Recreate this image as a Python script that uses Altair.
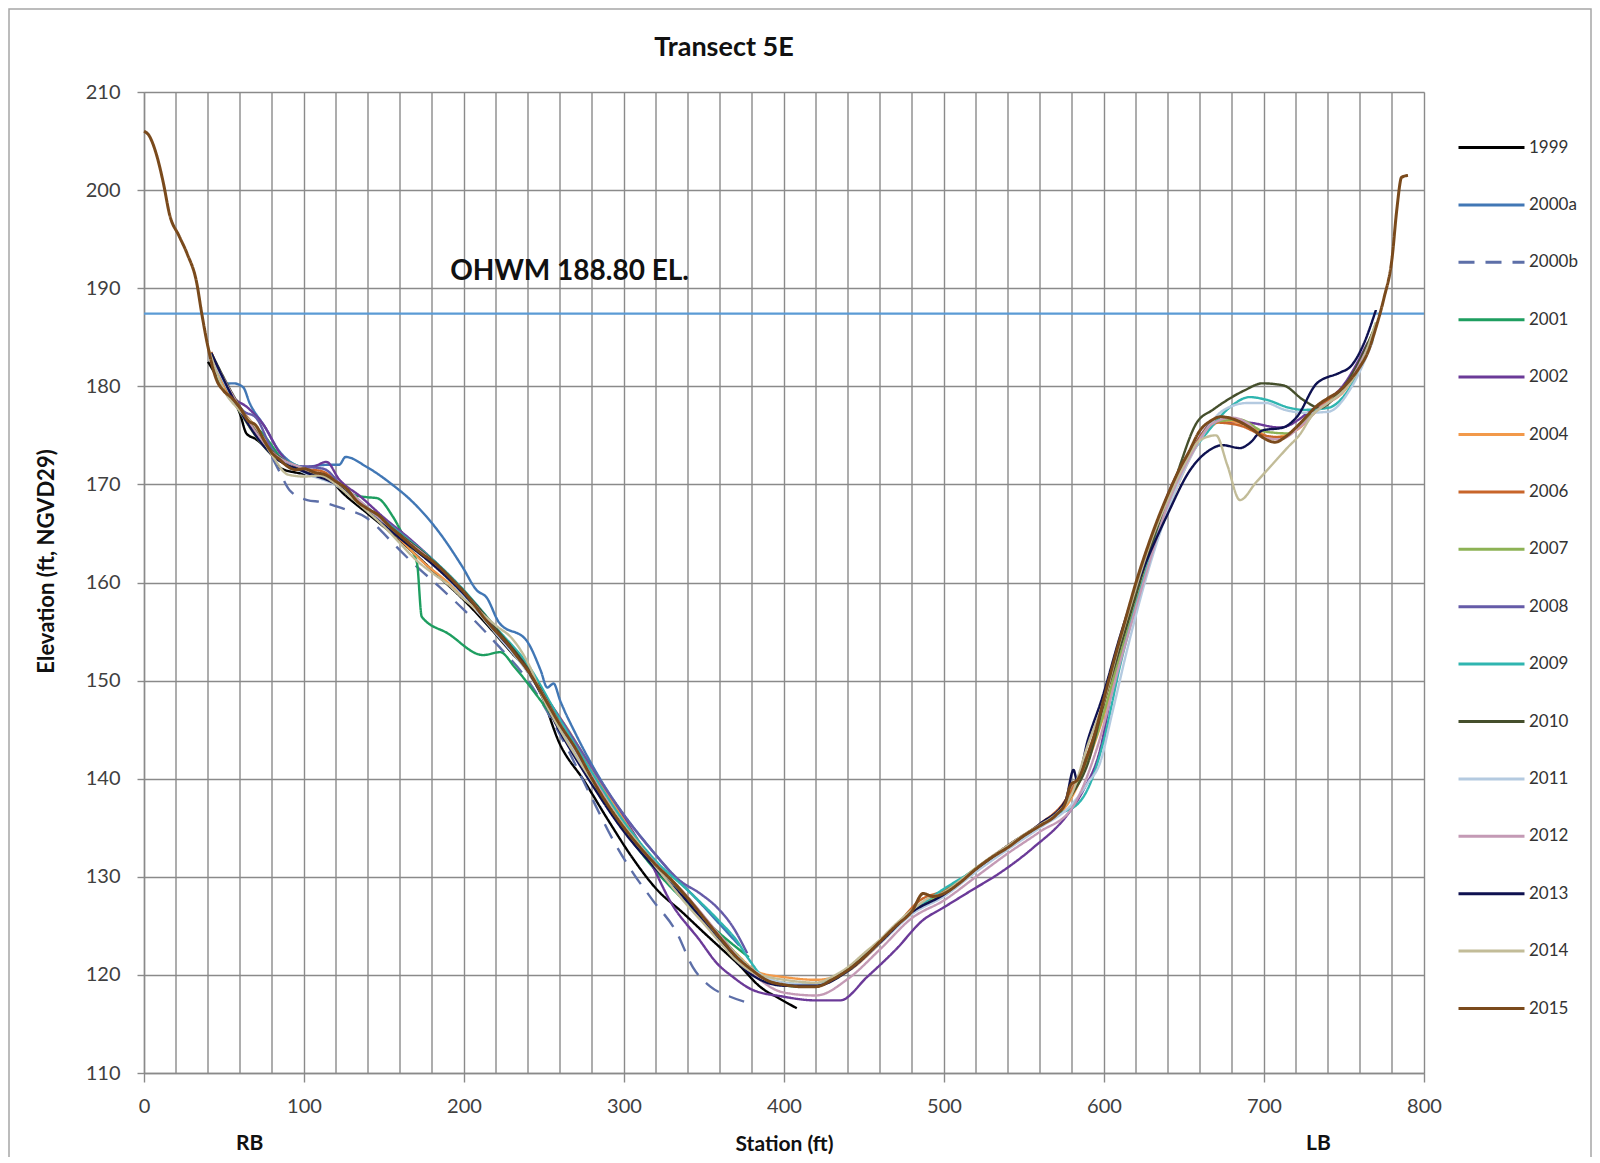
import altair as alt
import pandas as pd

# ---------------- data ----------------
SERIES = ["1999", "2000a", "2000b", "2001", "2002", "2004", "2006", "2007",
          "2008", "2009", "2010", "2011", "2012", "2013", "2014", "2015"]
COLORS = ["#000000", "#4177B5", "#5D6FA8", "#1E9E60", "#6B3A98", "#F2994A",
          "#C8652A", "#8DB255", "#655BA8", "#2FB5B0", "#454F2C", "#B4CAE0",
          "#C49AB5", "#0E1150", "#C2BC98", "#7A4A1C"]

S1999 = [40, 50, 60, 64, 70, 80, 85, 95, 105, 115,
         125, 140, 155, 170, 185, 200, 215, 230, 245, 260,
         275, 290, 305, 320, 337, 350, 360, 372, 385, 397,
         408]
E1999 = [182.5, 179.8, 177.2, 175.2, 174.6, 173.0, 171.7, 171.2, 171.0, 170.6,
         169.0, 167.0, 165.0, 162.8, 160.5, 158.2, 155.6, 152.8, 150.0, 143.5,
         139.8, 135.8, 132.0, 128.8, 126.3, 124.3, 122.8, 121.0, 118.8, 117.6,
         116.6]

S2000A = [48, 56, 62, 66, 75, 85, 100, 115, 122, 126,
          139, 155, 168, 185, 199, 208, 214, 222, 239, 248,
          252, 256, 260, 270, 285, 300, 315, 330, 345, 358,
          372]
E2000A = [180.2, 180.3, 179.9, 178.3, 176.0, 173.3, 171.8, 172.0, 172.0, 172.8,
          171.8, 170.0, 168.2, 165.0, 161.6, 159.2, 158.5, 155.9, 154.1, 151.0,
          149.3, 149.7, 148.0, 144.5, 140.0, 136.3, 133.2, 130.3, 127.8, 125.5,
          123.0]

S2000B = [80, 85, 91, 102, 111, 125, 139, 147.5, 155.6, 168,
          185, 200, 220, 240, 260, 280, 293, 305.6, 318, 333,
          343, 354, 366, 379]
E2000B = [172.8, 171.2, 169.4, 168.4, 168.2, 167.5, 166.6, 165.4, 164.0, 162.0,
          159.5, 157.2, 153.8, 150.0, 144.5, 138.0, 133.8, 130.4, 127.6, 124.3,
          120.8, 118.8, 117.8, 117.1]

S2001 = [45, 60, 75, 90, 105, 120, 130, 139, 145.6, 155.6,
         165, 170.6, 173.6, 190, 212, 222.5, 232, 245, 260, 280,
         300, 320, 340, 360, 378]
E2001 = [181.0, 177.6, 175.0, 172.0, 171.2, 170.2, 169.0, 168.7, 168.6, 166.7,
         163.8, 162.0, 156.5, 154.8, 152.6, 152.9, 151.3, 148.6, 145.2, 139.8,
         134.8, 130.6, 127.2, 124.2, 121.8]

S2002 = [42, 55, 65, 75, 85, 95, 105, 114, 122, 135,
         150, 165, 180, 195, 210, 225, 240, 255, 270, 285,
         300, 315, 330, 347, 358, 368, 380, 399, 420, 435,
         452, 470, 487, 499, 517, 535, 556, 577, 587, 597,
         610, 625, 640, 655, 670, 690, 710, 730, 750, 765]
E2002 = [183.0, 179.0, 177.8, 176.0, 173.2, 171.8, 171.8, 172.3, 170.5, 168.8,
         166.6, 164.6, 162.4, 160.0, 157.2, 154.2, 151.0, 147.2, 143.4, 139.6,
         136.0, 132.0, 127.2, 123.6, 121.2, 119.8, 118.5, 117.8, 117.4, 117.4,
         119.8, 122.6, 125.6, 126.8, 128.6, 130.4, 133.0, 136.3, 138.8, 142.6,
         153.6, 161.6, 169.0, 173.6, 176.4, 176.3, 175.8, 177.6, 180.2, 184.5]

S2004 = [42, 55, 70, 85, 100, 115, 130, 145, 160, 175,
         190, 205, 220, 235, 250, 265, 280, 295, 310, 325,
         340, 355, 370, 385, 399, 420, 440, 460, 480, 500,
         520, 540, 560, 578, 590, 600, 615, 630, 645, 660,
         675, 690, 705, 720, 735, 750, 765]
E2004 = [183.0, 178.6, 175.8, 172.4, 171.4, 170.8, 168.8, 166.8, 164.4, 162.0,
         160.0, 157.6, 155.0, 152.4, 148.6, 145.0, 141.0, 137.0, 133.4, 130.4,
         127.6, 124.8, 122.2, 120.2, 119.8, 119.5, 120.4, 123.2, 126.4, 128.2,
         130.6, 133.0, 135.3, 137.6, 141.8, 146.5, 155.0, 163.0, 169.5, 174.5,
         176.5, 176.0, 174.8, 175.5, 177.8, 179.5, 183.5]

S2006 = [42, 55, 68, 80, 95, 110, 125, 140, 155, 170,
         185, 200, 215, 230, 245, 260, 275, 290, 305, 320,
         335, 350, 365, 380, 395, 410, 425, 440, 455, 470,
         485, 500, 520, 540, 560, 575, 585, 595, 610, 625,
         640, 655, 670, 685, 700, 712, 725, 740, 755, 768]
E2006 = [183.5, 178.8, 176.2, 173.4, 171.6, 171.4, 169.6, 167.4, 165.5, 163.4,
         161.2, 158.8, 156.3, 153.2, 149.6, 145.8, 141.8, 137.6, 134.2, 131.4,
         128.8, 125.9, 122.8, 120.3, 119.3, 119.0, 119.3, 120.6, 122.6, 125.0,
         127.6, 128.6, 130.8, 133.2, 135.4, 137.6, 140.6, 145.0, 153.5, 161.5,
         168.5, 173.5, 176.3, 176.0, 175.0, 174.8, 176.6, 178.6, 181.0, 185.5]

S2007 = [42, 60, 80, 100, 120, 140, 160, 180, 200, 220,
         240, 260, 280, 300, 320, 340, 360, 380, 400, 420,
         440, 460, 480, 500, 520, 540, 560, 580, 595, 610,
         625, 640, 655, 670, 685, 700, 715, 730, 745, 760,
         770]
E2007 = [183.2, 177.4, 173.0, 171.4, 170.0, 167.2, 164.6, 162.0, 158.8, 155.2,
         151.2, 145.8, 140.4, 135.4, 131.4, 127.8, 124.0, 120.6, 119.2, 119.0,
         120.4, 123.4, 126.6, 128.4, 130.9, 133.1, 135.3, 138.4, 144.2, 152.5,
         160.5, 168.0, 173.2, 176.4, 176.6, 175.4, 175.2, 177.2, 179.0, 182.2,
         186.5]

S2008 = [42, 55, 62, 70, 80, 90, 100, 112, 125, 140,
         155, 170, 185, 200, 215, 230, 245, 260, 275, 290,
         305, 320, 335, 347.5, 358, 368, 377]
E2008 = [183.3, 179.0, 177.5, 176.8, 173.6, 172.0, 171.8, 171.6, 169.6, 167.4,
         165.8, 163.8, 161.4, 158.8, 156.0, 153.3, 149.8, 146.2, 142.4, 138.6,
         135.2, 132.2, 129.6, 128.3, 126.9, 124.9, 122.2]

S2009 = [42, 60, 80, 100, 120, 140, 160, 180, 200, 220,
         240, 260, 280, 300, 320, 340, 360, 370, 378, 390,
         410, 430, 450, 470, 493, 520, 550, 570, 584, 590,
         600, 610, 625, 640, 655, 664, 679, 691, 702, 716,
         725, 740, 755, 768]
E2009 = [183.2, 177.6, 173.4, 171.6, 170.2, 167.6, 165.0, 162.4, 159.2, 155.4,
         151.6, 146.0, 140.6, 135.6, 131.6, 128.6, 125.4, 123.6, 121.6, 119.4,
         118.8, 119.5, 121.8, 125.0, 128.0, 130.8, 134.2, 136.3, 137.5, 139.0,
         144.0, 151.5, 160.5, 168.2, 173.2, 175.2, 177.9, 178.9, 178.6, 177.8,
         177.6, 177.8, 180.2, 184.8]

S2010 = [42, 60, 80, 100, 120, 140, 160, 180, 200, 220,
         240, 260, 280, 300, 320, 340, 360, 380, 400, 420,
         440, 460, 480, 500, 520, 540, 560, 580, 590, 600,
         615, 630, 645, 658, 668, 677, 688, 699, 712, 724.6,
         735, 745, 755, 768]
E2010 = [183.4, 177.9, 173.4, 171.5, 170.1, 167.5, 164.9, 162.3, 159.1, 155.3,
         151.2, 145.6, 139.8, 134.8, 130.9, 127.6, 123.6, 120.4, 119.0, 118.9,
         120.6, 123.4, 126.4, 128.2, 130.7, 133.0, 135.2, 138.4, 141.6, 147.8,
         156.0, 164.0, 170.8, 176.3, 177.6, 178.6, 179.6, 180.3, 180.1, 178.6,
         177.8, 179.0, 181.2, 185.5]

S2011 = [42, 60, 80, 100, 120, 140, 160, 180, 200, 220,
         240, 260, 280, 300, 320, 340, 360, 380, 400, 420,
         440, 460, 480, 500, 520, 540, 560, 580, 590, 597.5,
         605, 615, 630, 645, 660, 675, 690, 701, 713, 726,
         740, 755, 768]
E2011 = [183.1, 177.5, 173.2, 171.2, 169.9, 167.3, 164.6, 162.0, 158.6, 154.8,
         150.8, 145.4, 140.0, 135.0, 131.0, 127.4, 123.8, 120.6, 119.2, 119.0,
         120.4, 123.2, 126.2, 128.0, 130.5, 132.8, 135.0, 137.4, 139.6, 141.6,
         146.6, 153.5, 162.5, 169.5, 174.5, 177.6, 178.3, 178.3, 177.6, 177.3,
         177.4, 180.0, 184.6]

S2012 = [42, 60, 80, 100, 120, 140, 160, 180, 200, 220,
         240, 260, 280, 300, 320, 340, 360, 380, 400, 420,
         440, 460, 480, 500, 520, 540, 560, 580, 595, 610,
         625, 640, 655, 668, 680, 690, 699, 710, 722, 735,
         750, 765]
E2012 = [183.2, 177.8, 173.3, 171.6, 170.3, 167.6, 164.8, 162.2, 159.0, 155.0,
         151.0, 145.6, 140.2, 135.2, 131.3, 127.9, 124.0, 120.2, 118.2, 117.9,
         119.6, 122.6, 125.8, 127.6, 130.0, 132.4, 134.6, 137.0, 142.8, 151.8,
         160.2, 168.0, 173.2, 176.2, 176.8, 176.2, 174.8, 174.6, 175.8, 177.8,
         179.6, 184.0]

S2013 = [42, 60, 80, 100, 120, 140, 160, 180, 200, 220,
         240, 260, 280, 300, 320, 340, 360, 380, 400, 420,
         440, 460, 480, 500, 520, 540, 560, 576, 581, 583,
         590, 599, 610, 620, 630, 639, 654, 666, 674, 685,
         691, 699, 712, 720.6, 733, 747.5, 754, 762, 770]
E2013 = [183.4, 177.5, 173.0, 171.3, 170.0, 167.2, 164.5, 161.9, 158.8, 155.0,
         151.0, 144.8, 139.4, 134.6, 130.8, 127.4, 123.4, 120.0, 118.9, 118.9,
         120.4, 123.3, 126.4, 128.2, 130.8, 133.2, 135.4, 137.8, 140.9, 139.9,
         144.0, 148.3, 154.5, 159.5, 163.5, 166.7, 171.5, 173.5, 174.0, 173.7,
         174.2, 175.5, 175.8, 176.9, 180.3, 181.4, 182.0, 184.2, 187.8]

S2014 = [40, 50, 60, 70, 80, 90, 100, 110, 120, 130,
         140, 150, 160, 170, 180, 190, 200, 210, 220, 230,
         240, 250, 260, 270, 280, 290, 300, 310, 320, 330,
         340, 350, 360, 370, 380, 390, 400, 410, 420, 430,
         440, 450, 460, 470, 480, 490, 500, 510, 520, 530,
         540, 550, 560, 570, 580, 590, 600, 610, 620, 630,
         640, 650, 660, 670, 677, 685, 695, 705, 715, 722,
         730, 740, 750, 760, 770]
E2014 = [184.0, 179.6, 177.5, 175.8, 173.0, 171.0, 170.8, 170.9, 170.0, 168.6,
         167.2, 165.7, 164.0, 162.3, 161.0, 159.8, 158.3, 157.0, 155.6, 154.3,
         151.8, 148.0, 145.0, 142.3, 139.8, 137.5, 135.2, 133.2, 131.0, 129.0,
         127.0, 125.2, 123.3, 121.5, 120.3, 119.8, 119.5, 119.3, 119.2, 119.8,
         120.8, 122.2, 123.6, 125.2, 126.6, 127.8, 128.4, 129.6, 130.9, 132.1,
         133.2, 134.3, 135.3, 136.4, 138.5, 143.5, 148.0, 154.0, 159.5, 164.5,
         168.5, 172.0, 174.5, 175.0, 172.0, 168.4, 170.2, 172.0, 173.8, 175.0,
         177.0, 178.3, 179.6, 182.0, 186.5]

S2015 = [0, 3, 8, 12, 16, 22, 27, 33, 36, 40,
         45, 50, 55, 60, 65, 70, 75, 80, 85, 90,
         95, 100, 107, 113, 120, 127, 133, 140, 147, 153,
         160, 167, 173, 180, 187, 193, 200, 207, 213, 220,
         227, 233, 240, 250, 260, 270, 280, 290, 300, 310,
         320, 330, 340, 350, 360, 370, 380, 390, 400, 410,
         420, 430, 440, 450, 460, 470, 480, 487, 493, 500,
         510, 520, 530, 540, 550, 560, 570, 576, 579, 584,
         590, 595, 600, 607, 613, 620, 627, 633, 640, 647,
         653, 660, 667, 673, 680, 687, 693, 700, 707, 713,
         720, 727, 733, 740, 747, 753, 760, 765, 770, 775,
         780, 783, 786, 790]
E2015 = [206.0, 205.6, 203.5, 200.8, 197.5, 195.3, 193.5, 190.5, 187.5, 184.0,
         180.8, 179.5, 178.8, 177.8, 176.5, 176.0, 174.5, 173.2, 172.5, 171.8,
         171.5, 171.6, 171.2, 171.0, 170.3, 169.5, 168.3, 167.5, 166.8, 165.8,
         164.8, 163.8, 163.0, 162.2, 161.2, 160.2, 159.0, 157.6, 156.3, 155.0,
         153.8, 152.5, 151.0, 148.3, 145.5, 143.0, 140.0, 137.3, 135.0, 133.0,
         131.2, 129.6, 127.8, 125.8, 123.8, 121.9, 120.5, 119.4, 119.0, 118.8,
         118.8, 119.5, 120.5, 121.8, 123.4, 125.0, 126.5, 128.3, 128.0, 128.3,
         129.4, 130.8, 132.0, 133.0, 134.2, 135.2, 136.3, 137.6, 139.3, 140.0,
         142.5, 145.0, 148.2, 152.5, 156.0, 160.0, 163.5, 166.2, 169.0, 171.5,
         173.3, 175.5, 176.5, 176.9, 176.7, 176.2, 175.6, 174.7, 174.3, 174.8,
         175.8, 177.0, 178.0, 178.8, 179.5, 180.5, 182.0, 183.5, 186.0, 189.0,
         193.0, 198.0, 201.3, 201.5]

SURVEYS = {
    "1999": (S1999, E1999), "2000a": (S2000A, E2000A), "2000b": (S2000B, E2000B),
    "2001": (S2001, E2001), "2002": (S2002, E2002), "2004": (S2004, E2004),
    "2006": (S2006, E2006), "2007": (S2007, E2007), "2008": (S2008, E2008),
    "2009": (S2009, E2009), "2010": (S2010, E2010), "2011": (S2011, E2011),
    "2012": (S2012, E2012), "2013": (S2013, E2013), "2014": (S2014, E2014),
    "2015": (S2015, E2015),
}

OHWM_ELEV = [187.4]
OHWM_LABEL = ["OHWM 188.80 EL."]
OHWM_LABEL_STATION = [266]
OHWM_LABEL_ELEV = [191.7]
BANK_LABELS = ["RB", "LB"]
BANK_STATIONS = [66, 734]

X_MAJOR = [0, 100, 200, 300, 400, 500, 600, 700, 800]
X_MINOR = [20, 40, 60, 80, 120, 140, 160, 180, 220, 240, 260, 280,
           320, 340, 360, 380, 420, 440, 460, 480, 520, 540, 560, 580,
           620, 640, 660, 680, 720, 740, 760, 780]
Y_TICKS = [110, 120, 130, 140, 150, 160, 170, 180, 190, 200, 210]

# ---------------- build tables ----------------
rows = []
for s in SERIES:
    xs, ys = SURVEYS[s]
    assert len(xs) == len(ys), (s, len(xs), len(ys))
    for i, (x, y) in enumerate(zip(xs, ys)):
        rows.append({"series": s, "i": i, "station": x, "elev": y})
df = pd.DataFrame(rows)

DASHES = [[16, 11] if s == "2000b" else [1, 0] for s in SERIES]

FONT = "Lato"
GRID = "#8a8a8a"
GW = 1.4

x_scale = alt.Scale(domain=[0, 800], nice=False, zero=False)
y_scale = alt.Scale(domain=[110, 210], nice=False, zero=False)

x_axis = alt.Axis(
    values=X_MAJOR, grid=True, gridColor=GRID, gridWidth=GW,
    tickSize=9, tickColor=GRID, tickWidth=GW, domainColor=GRID, domainWidth=GW,
    labelFont=FONT, labelFontSize=20, labelColor="#404040", labelPadding=14,
    labelOverlap=False, labelFlush=False, format="d",
    title="Station (ft)", titleFont=FONT, titleFontSize=21, titleFontWeight="bold",
    titleColor="#111111", titleY=71, titleBaseline="middle",
)
y_axis = alt.Axis(
    values=Y_TICKS, grid=True, gridColor=GRID, gridWidth=GW,
    tickSize=7, tickColor=GRID, tickWidth=GW, domainColor=GRID, domainWidth=GW,
    labelFont=FONT, labelFontSize=20, labelColor="#404040", labelPadding=17,
    labelOverlap=False, format="d",
    title="Elevation (ft, NGVD29)", titleFont=FONT, titleFontSize=22,
    titleFontWeight="bold", titleColor="#111111", titleX=-98, titleY=469,
    titleBaseline="middle", titleAlign="center",
)

legend = alt.Legend(
    title=None, orient="none", legendX=1313, legendY=21,
    symbolType="stroke", symbolSize=4356, symbolStrokeWidth=3,
    labelFont=FONT, labelFontSize=17, labelColor="#333333", labelOffset=3,
    rowPadding=14.4, padding=0, values=SERIES,
)

color = alt.Color("series:N", scale=alt.Scale(domain=SERIES, range=COLORS), legend=legend)
dash = alt.StrokeDash("series:N", scale=alt.Scale(domain=SERIES, range=DASHES), legend=legend)

minor_df = pd.DataFrame({"station": X_MINOR})
minor_grid = alt.Chart(minor_df).mark_rule(color=GRID, strokeWidth=GW).encode(
    x=alt.X("station:Q", scale=x_scale)
)

base = alt.Chart(df)
layers = []
for s in SERIES:
    sw = 3.0 if s == "2015" else 2.4
    layers.append(
        base.transform_filter(alt.datum.series == s)
        .mark_line(strokeWidth=sw, interpolate="monotone")
        .encode(
            x=alt.X("station:Q", scale=x_scale, axis=x_axis),
            y=alt.Y("elev:Q", scale=y_scale, axis=y_axis),
            color=color, strokeDash=dash, order="i:Q",
        )
    )

ohwm_df = pd.DataFrame({"elev": OHWM_ELEV})
ohwm = alt.Chart(ohwm_df).mark_rule(color="#5B9BD5", strokeWidth=2.2).encode(
    y=alt.Y("elev:Q", scale=y_scale)
)

lbl_df = pd.DataFrame({"t": OHWM_LABEL, "station": OHWM_LABEL_STATION, "elev": OHWM_LABEL_ELEV})
ohwm_text = alt.Chart(lbl_df).mark_text(
    font=FONT, fontSize=28, fontWeight="bold", color="#111111", baseline="middle"
).encode(x=alt.X("station:Q", scale=x_scale), y=alt.Y("elev:Q", scale=y_scale), text="t:N")

bank_df = pd.DataFrame({"t": BANK_LABELS, "station": BANK_STATIONS})
bank_text = alt.Chart(bank_df).mark_text(
    font=FONT, fontSize=21, fontWeight="bold", color="#111111", baseline="middle"
).encode(x=alt.X("station:Q", scale=x_scale), y=alt.value(1052), text="t:N")

# thin frame around the whole chart area (decoration, like the spreadsheet chart border)
frame = alt.Chart(ohwm_df).mark_rect(fill=None, stroke="#a6a6a6", strokeWidth=1.5, clip=False).encode(
    x=alt.value(-135), x2=alt.value(1447), y=alt.value(-83), y2=alt.value(1066)
)

chart = alt.layer(frame, minor_grid, ohwm, *layers, ohwm_text, bank_text).properties(
    width=1280, height=981,
    padding={"left": 136, "top": 84, "right": 168, "bottom": 84},
    autosize=alt.AutoSizeParams(type="none"),
    title=alt.TitleParams("Transect 5E", font=FONT, fontSize=27, fontWeight="bold",
                          color="#111111", anchor="middle", dx=-60, offset=0, dy=54),
).configure_view(stroke=GRID, strokeWidth=GW).configure(background="white")

chart.save("out.html", embed_options={"renderer": "svg", "actions": False})
